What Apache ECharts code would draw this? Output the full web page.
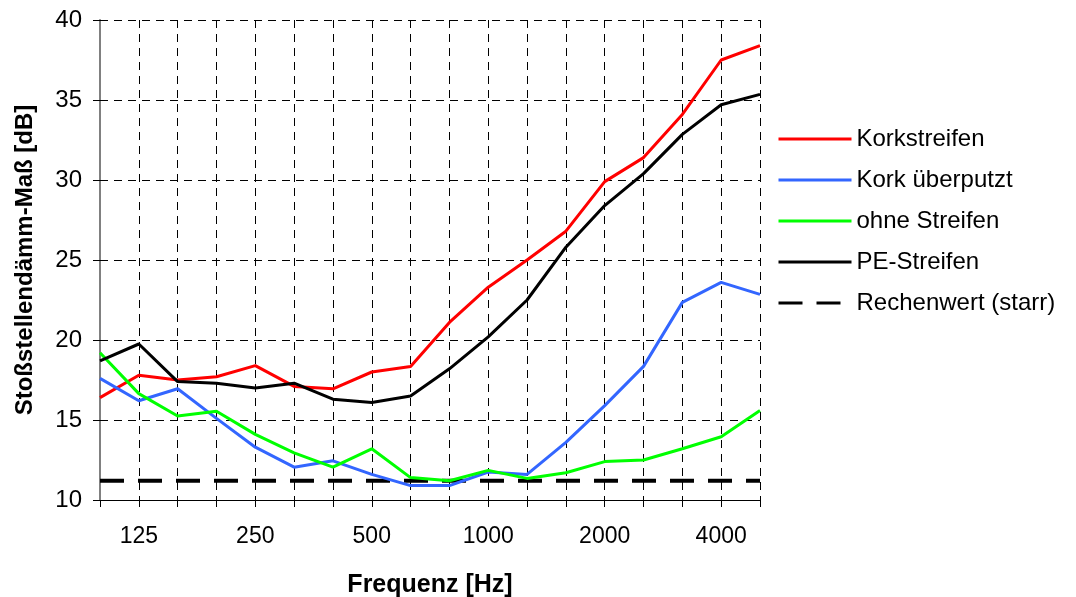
<!DOCTYPE html>
<html>
<head>
<meta charset="utf-8">
<script src="https://cdn.jsdelivr.net/npm/echarts@6/dist/echarts.min.js"></script>
<style>
html,body{margin:0;padding:0;background:#fff;}
#chart{width:1076px;height:597px;}
</style>
</head>
<body>
<div id="chart"></div>
<script>
const categories = ['100','125','160','200','250','315','400','500','630','800','1000','1250','1600','2000','2500','3150','4000','5000'];
const korkstreifen = [16.4,17.8,17.5,17.7,18.4,17.1,16.95,18.0,18.35,21.1,23.3,25.0,26.8,29.9,31.4,34.1,37.5,38.4];
const korkUeberputzt = [17.6,16.2,16.95,15.1,13.3,12.05,12.45,11.6,10.9,10.9,11.75,11.6,13.6,15.9,18.35,22.35,23.6,22.85];
const ohneStreifen = [19.2,16.65,15.25,15.55,14.1,12.95,12.05,13.2,11.4,11.2,11.85,11.35,11.7,12.4,12.5,13.2,13.95,15.6];
const peStreifen = [18.7,19.75,17.4,17.3,17.0,17.3,16.3,16.1,16.5,18.2,20.2,22.5,25.8,28.4,30.4,32.85,34.7,35.35];
const rechenwert = categories.map(() => 11.2);
const yTicks = {min: 10, max: 40, interval: 5};

const chart = echarts.init(document.getElementById('chart'));
const font = "'Liberation Sans', Arial, sans-serif";
function line(name, data, color, extra) {
  return Object.assign({
    name: name, type: 'line', data: data, symbol: 'none', showSymbol: false,
    lineStyle: {color: color, width: 3}, itemStyle: {color: color},
    emphasis: {disabled: true}, animation: false
  }, extra || {});
}
chart.setOption({
  animation: false,
  backgroundColor: '#fff',
  grid: {left: 100, right: 316, top: 20, bottom: 97, containLabel: false, outerBoundsMode: 'none'},
  legend: {
    orient: 'vertical', left: 777, top: 127, padding: 0, itemWidth: 73, itemHeight: 14, itemGap: 17,
    itemStyle: {opacity: 0},
    lineStyle: {width: 3},
    textStyle: {fontFamily: font, fontSize: 24, color: '#000', lineHeight: 24},
    selectedMode: false,
    data: ['Korkstreifen','Kork überputzt','ohne Streifen','PE-Streifen','Rechenwert (starr)']
  },
  xAxis: {
    type: 'category', data: categories, boundaryGap: false,
    name: 'Frequenz [Hz]', nameLocation: 'middle', nameGap: 73,
    nameTextStyle: {fontFamily: font, fontSize: 25, fontWeight: 'bold', color: '#000'},
    axisLine: {lineStyle: {color: '#000', width: 1}},
    axisTick: {show: true, interval: 0, length: 7, lineStyle: {color: '#000'}},
    axisLabel: {interval: function(i){ return i % 3 === 1; }, margin: 25, fontFamily: font, fontSize: 23, color: '#000'},
    splitLine: {show: true, interval: 0, lineStyle: {type: [8,6], color: '#000', width: 1}}
  },
  yAxis: [{
    type: 'value', min: yTicks.min, max: yTicks.max, interval: yTicks.interval,
    name: 'Stoßstellendämm-Maß [dB]', nameLocation: 'middle', nameGap: 63,
    nameTextStyle: {fontFamily: font, fontSize: 24, fontWeight: 'bold', color: '#000'},
    axisLine: {show: true, lineStyle: {color: '#808080', width: 2}},
    axisTick: {show: true, length: 7, lineStyle: {color: '#000'}},
    axisLabel: {margin: 18, fontFamily: font, fontSize: 24, color: '#000'},
    splitLine: {show: true, lineStyle: {type: [8,6], color: '#000', width: 1}}
  }, {
    type: 'value', position: 'left', min: yTicks.min, max: yTicks.max, interval: yTicks.interval,
    axisLine: {show: false},
    axisTick: {show: true, inside: true, length: 7, lineStyle: {color: '#000'}},
    axisLabel: {show: false}, splitLine: {show: false}
  }],
  series: [
    line('Rechenwert (starr)', rechenwert, '#000', {lineStyle: {color: '#000', width: 4, type: [24,14]}, z: 1}),
    line('Korkstreifen', korkstreifen, '#ff0000'),
    line('Kork überputzt', korkUeberputzt, '#3366ff'),
    line('ohne Streifen', ohneStreifen, '#00ff00'),
    line('PE-Streifen', peStreifen, '#000000')
  ]
});
</script>
</body>
</html>
